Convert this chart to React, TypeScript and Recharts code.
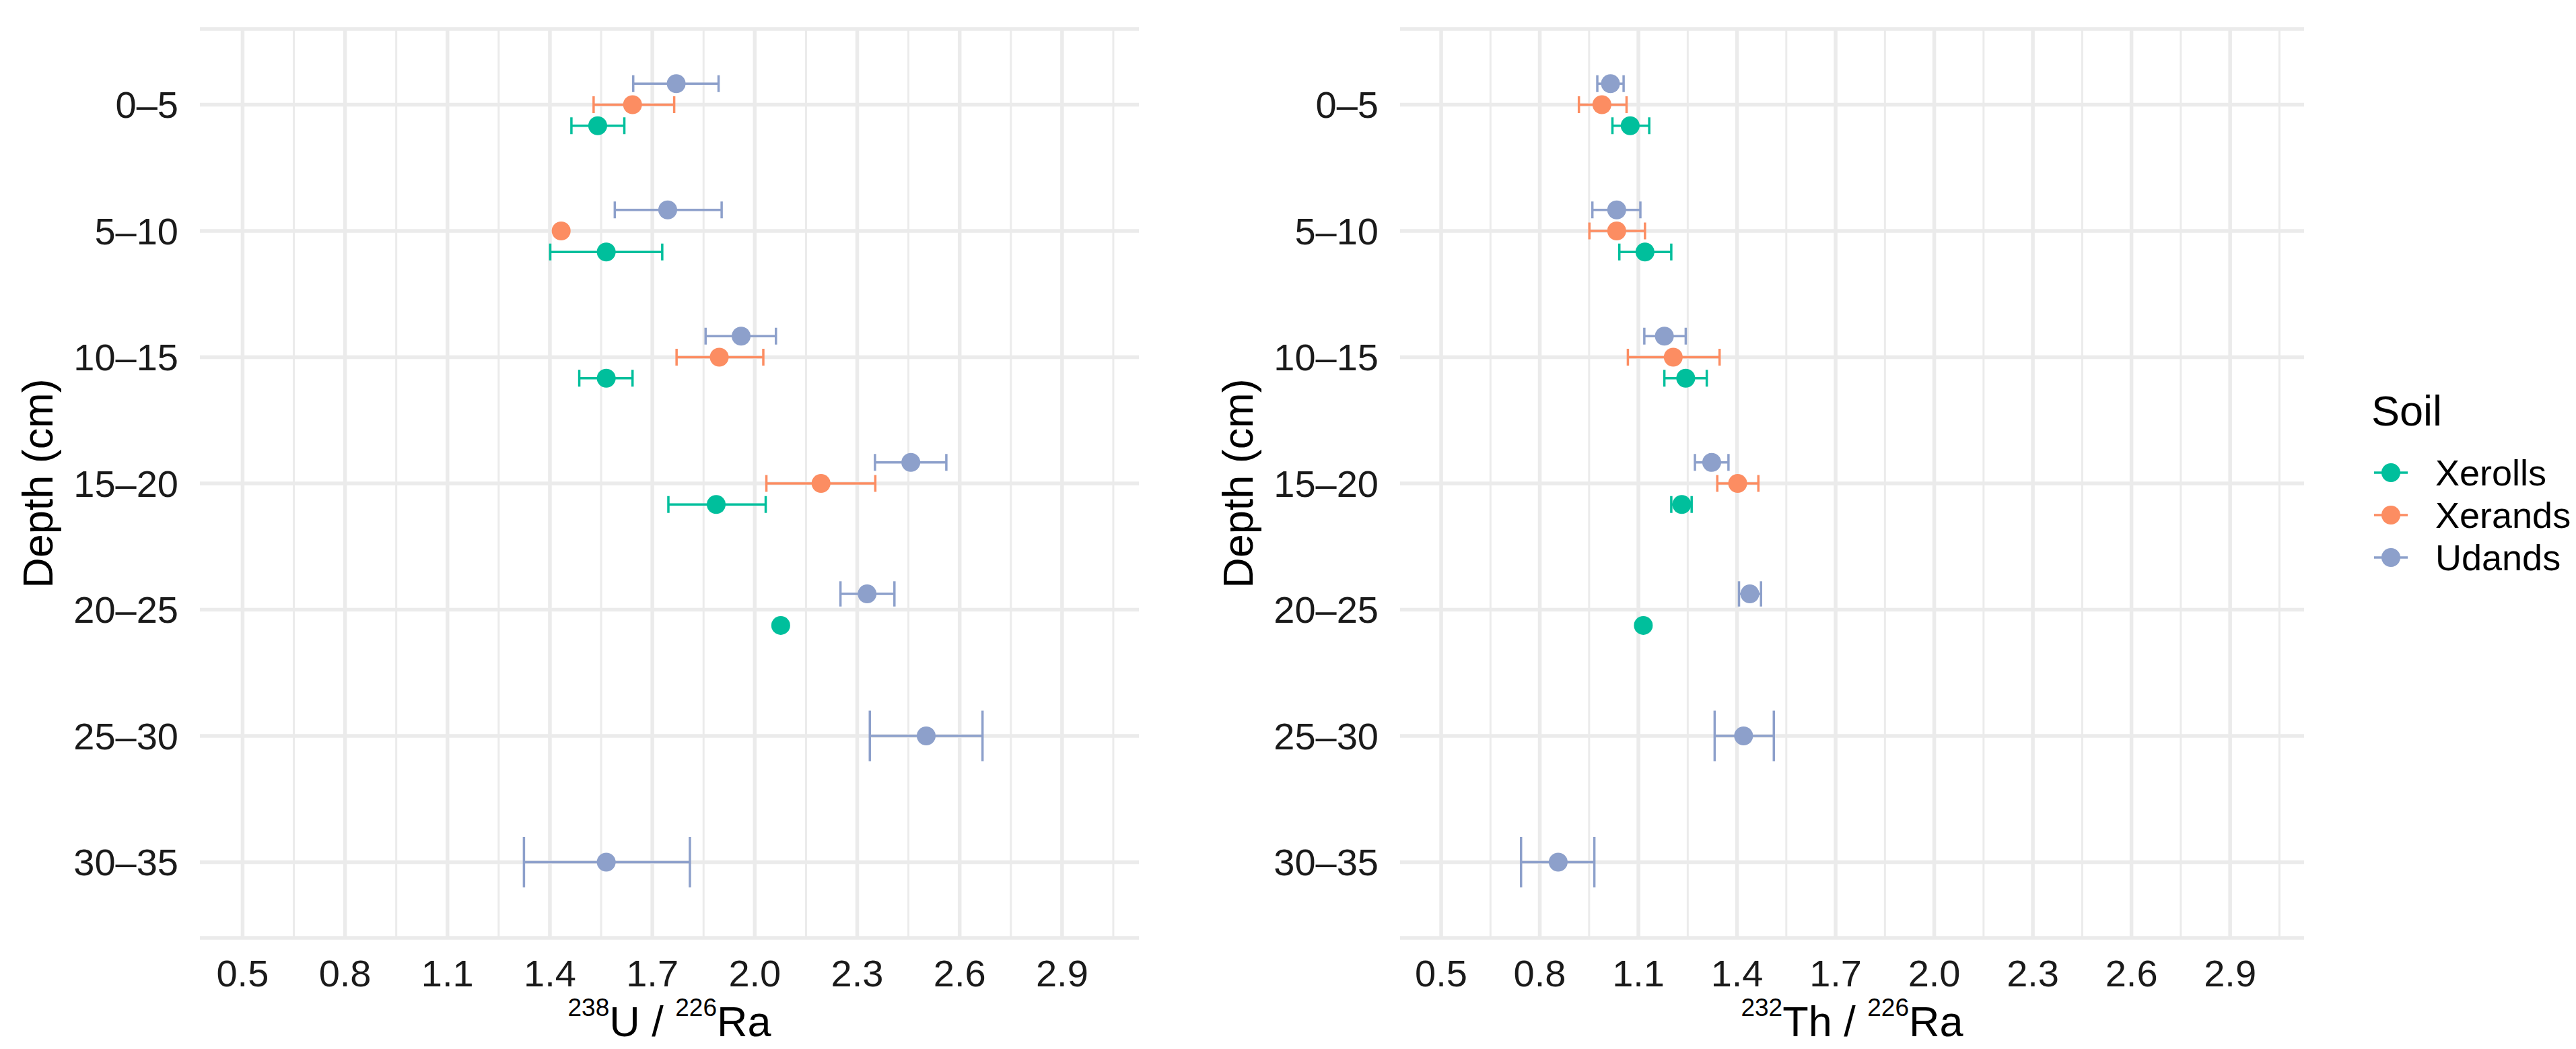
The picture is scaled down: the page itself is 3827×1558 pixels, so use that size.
import React from 'react';
import { ScatterChart, Scatter, XAxis, YAxis, CartesianGrid, ErrorBar, Label } from 'recharts';

const depths = ['0–5', '5–10', '10–15', '15–20', '20–25', '25–30', '30–35'];
const soils = ['Xerolls', 'Xerands', 'Udands'];
const soilColors = ['#00BF9C', '#FC8D62', '#8DA0CB'];

const xTicks = [0.5, 0.8, 1.1, 1.4, 1.7, 2.0, 2.3, 2.6, 2.9];
const xMinorTicks = [0.65, 0.95, 1.25, 1.55, 1.85, 2.15, 2.45, 2.75, 3.05];
const yTicks = [1, 2, 3, 4, 5, 6, 7];

// 238U / 226Ra (mean, lower, upper) per depth, null = no sample
const uXerollsMean = [1.54, 1.565, 1.565, 1.887, 2.076, null, null];
const uXerollsLow = [1.463, 1.401, 1.486, 1.747, 2.076, null, null];
const uXerollsHigh = [1.618, 1.729, 1.642, 2.032, 2.076, null, null];
const uXerandsMean = [1.642, 1.433, 1.896, 2.194, null, null, null];
const uXerandsLow = [1.528, 1.43, 1.771, 2.034, null, null, null];
const uXerandsHigh = [1.764, 1.436, 2.025, 2.353, null, null, null];
const uUdandsMean = [1.77, 1.745, 1.96, 2.457, 2.329, 2.502, 1.565];
const uUdandsLow = [1.644, 1.59, 1.856, 2.352, 2.251, 2.337, 1.324];
const uUdandsHigh = [1.894, 1.903, 2.062, 2.561, 2.409, 2.667, 1.81];

// 232Th / 226Ra
const thXerollsMean = [1.075, 1.12, 1.244, 1.232, 1.115, null, null];
const thXerollsLow = [1.021, 1.042, 1.179, 1.2, 1.115, null, null];
const thXerollsHigh = [1.133, 1.2, 1.308, 1.262, 1.115, null, null];
const thXerandsMean = [0.989, 1.034, 1.206, 1.402, null, null, null];
const thXerandsLow = [0.919, 0.951, 1.068, 1.34, null, null, null];
const thXerandsHigh = [1.064, 1.12, 1.347, 1.465, null, null, null];
const thUdandsMean = [1.015, 1.034, 1.179, 1.323, 1.439, 1.42, 0.856];
const thUdandsLow = [0.975, 0.96, 1.118, 1.272, 1.406, 1.332, 0.743];
const thUdandsHigh = [1.055, 1.106, 1.244, 1.374, 1.473, 1.512, 0.966];

const uTitle = ['238', 'U / ', '226', 'Ra'];
const thTitle = ['232', 'Th / ', '226', 'Ra'];

const FONT = '"Liberation Sans", Arial, sans-serif';
const DODGE = 0.5;
const CAP = 0.2;
const Y_DOMAIN: [number, number] = [0.4, 7.6];
const X_DOMAIN: [number, number] = [0.375, 3.125];
const CHART_H = 1558;
const TOP = 43;
const X_AXIS_H = 165;
const Y_AXIS_W = 297;
const PX_PER_ROW = (CHART_H - TOP - X_AXIS_H) / (Y_DOMAIN[1] - Y_DOMAIN[0]);

type Point = { x: number; y: number; err: [number, number] | null };
type Group = { soil: number; n: number; rows: Point[] };

// split each soil into groups by how many soils share the depth (ggplot dodge)
function buildGroups(means: (number | null)[][], lows: (number | null)[][], highs: (number | null)[][]) {
  const groups: Group[] = [];
  depths.forEach((_, i) => {
    const present = soils.map((_, s) => s).filter((s) => means[s][i] != null);
    const n = present.length;
    present.forEach((s, k) => {
      const m = means[s][i] as number;
      const lo = lows[s][i] as number;
      const hi = highs[s][i] as number;
      const offset = -((k + 1) - (n + 1) / 2) * (DODGE / n);
      let g = groups.find((gr) => gr.soil === s && gr.n === n);
      if (!g) {
        g = { soil: s, n, rows: [] };
        groups.push(g);
      }
      // a zero-length bar is hidden under the point in the original
      const err: [number, number] | null = hi - lo > 0 ? [m - lo, hi - m] : null;
      g.rows.push({ x: m, y: i + 1 + offset, err });
    });
  });
  return groups;
}

const uGroups = buildGroups(
  [uXerollsMean, uXerandsMean, uUdandsMean],
  [uXerollsLow, uXerandsLow, uUdandsLow],
  [uXerollsHigh, uXerandsHigh, uUdandsHigh]
);
const thGroups = buildGroups(
  [thXerollsMean, thXerandsMean, thUdandsMean],
  [thXerollsLow, thXerandsLow, thUdandsLow],
  [thXerollsHigh, thXerandsHigh, thUdandsHigh]
);

const XTitle = (parts: string[]) => (props: any) => {
  const { x, y, width } = props.viewBox;
  return (
    <text x={x + width / 2} y={y + 146} textAnchor="middle" fontSize={63} fill="#000" fontFamily={FONT}>
      <tspan fontSize={37} dy={-30}>{parts[0]}</tspan>
      <tspan dy={30}>{parts[1]}</tspan>
      <tspan fontSize={37} dy={-30}>{parts[2]}</tspan>
      <tspan dy={30}>{parts[3]}</tspan>
    </text>
  );
};

const YTitle = (props: any) => {
  const { x, y, height } = props.viewBox;
  const tx = x + 78;
  const ty = y + height / 2;
  return (
    <text x={tx} y={ty} textAnchor="middle" fontSize={63} fill="#000" fontFamily={FONT} transform={`rotate(-90, ${tx}, ${ty})`}>
      Depth (cm)
    </text>
  );
};

const Panel = ({ groups, width, title }: { groups: Group[]; width: number; title: string[] }) => (
  <ScatterChart width={width} height={CHART_H} margin={{ top: TOP, right: 28, bottom: 0, left: 0 }}>
    <CartesianGrid horizontal={false} verticalValues={xMinorTicks} stroke="#EBEBEB" strokeWidth={3} />
    <CartesianGrid verticalValues={xTicks} stroke="#EBEBEB" strokeWidth={5.5} />
    <XAxis
      type="number"
      dataKey="x"
      domain={X_DOMAIN}
      allowDataOverflow
      ticks={xTicks}
      interval={0}
      tickFormatter={(v: number) => v.toFixed(1)}
      axisLine={false}
      tickLine={false}
      tickSize={0}
      tickMargin={32}
      height={X_AXIS_H}
      tick={{ fontSize: 56, fill: '#1A1A1A', fontFamily: FONT }}
    >
      <Label content={XTitle(title)} />
    </XAxis>
    <YAxis
      type="number"
      dataKey="y"
      domain={Y_DOMAIN}
      allowDataOverflow
      reversed
      ticks={yTicks}
      interval={0}
      tickFormatter={(v: number) => depths[v - 1]}
      axisLine={false}
      tickLine={false}
      tickSize={0}
      tickMargin={32}
      width={Y_AXIS_W}
      tick={{ fontSize: 56, fill: '#1A1A1A', fontFamily: FONT }}
    >
      <Label content={YTitle} />
    </YAxis>
    {/* error bars first, points after, as in the ggplot layers */}
    {groups.map((g, gi) => (
      <Scatter
        key={`err-${gi}`}
        name={`${soils[g.soil]}-err`}
        data={g.rows}
        isAnimationActive={false}
        shape={() => <g />}
      >
        <ErrorBar
          dataKey="err"
          direction="x"
          width={(CAP * PX_PER_ROW) / g.n}
          stroke={soilColors[g.soil]}
          strokeWidth={3.5}
          isAnimationActive={false}
          {...({ zIndex: 100 } as any)}
        />
      </Scatter>
    ))}
    {groups.map((g, gi) => (
      <Scatter
        key={`pt-${gi}`}
        name={soils[g.soil]}
        data={g.rows}
        fill={soilColors[g.soil]}
        isAnimationActive={false}
        shape={(p: any) => <circle cx={p.cx} cy={p.cy} r={14} fill={soilColors[g.soil]} />}
      />
    ))}
  </ScatterChart>
);

const SoilLegend = () => (
  <svg width={367} height={320} style={{ position: 'absolute', left: 3460, top: 560 }} fontFamily={FONT}>
    <text x={63} y={72} fontSize={63} fill="#000">Soil</text>
    {soils.map((s, i) => {
      const cy = 142 + i * 63;
      return (
        <g key={s}>
          <line x1={67} x2={117} y1={cy} y2={cy} stroke={soilColors[i]} strokeWidth={3.5} />
          <circle cx={92} cy={cy} r={14} fill={soilColors[i]} />
          <text x={158} y={cy} dy="0.355em" fontSize={54} fill="#000">{s}</text>
        </g>
      );
    })}
  </svg>
);

export default function App() {
  return (
    <div style={{ position: 'absolute', left: 0, top: 0, width: 3827, height: 1558, background: '#fff', fontFamily: FONT }}>
      <div style={{ position: 'absolute', left: 0, top: 0 }}>
        <Panel groups={uGroups} width={1720} title={uTitle} />
      </div>
      <div style={{ position: 'absolute', left: 1783, top: 0 }}>
        <Panel groups={thGroups} width={1668} title={thTitle} />
      </div>
      <SoilLegend />
    </div>
  );
}
